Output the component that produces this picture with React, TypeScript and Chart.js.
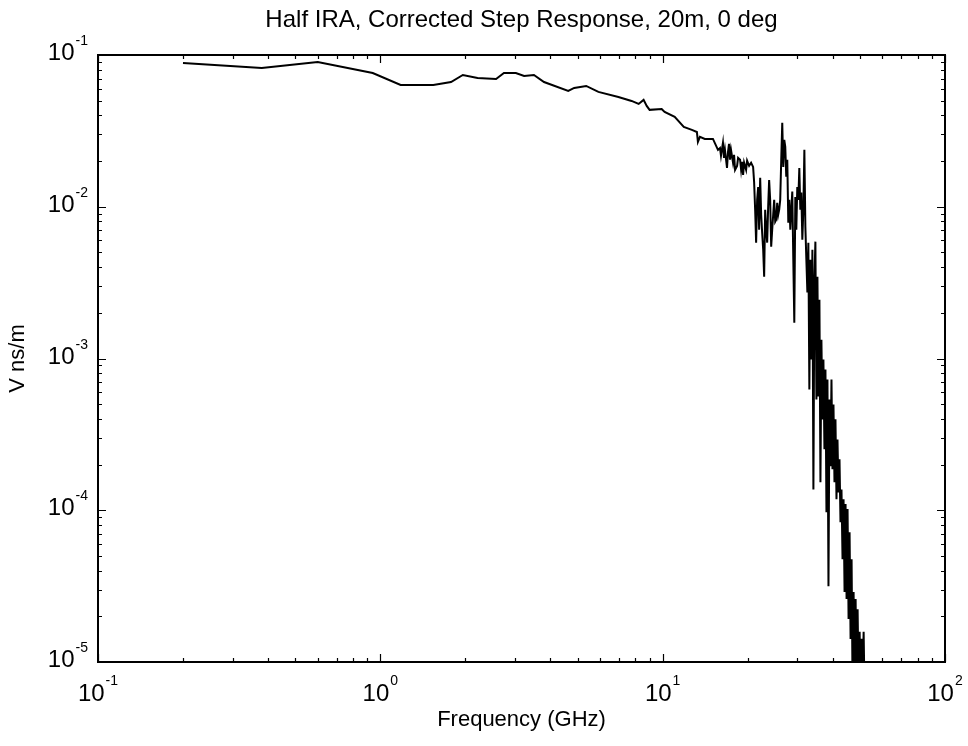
import React, { useEffect, useRef } from "react";
import { Chart, registerables } from "chart.js";

Chart.register(...registerables);

const chartTitle = "Half IRA, Corrected Step Response, 20m, 0 deg";
const xAxisLabel = "Frequency (GHz)";
const yAxisLabel = "V ns/m";

const xTickValues = [0.1, 1, 10, 100];
const xTickExponents = ["-1", "0", "1", "2"];
const yTickValues = [0.00001, 0.0001, 0.001, 0.01, 0.1];
const yTickExponents = ["-5", "-4", "-3", "-2", "-1"];

// Frequency samples (GHz)
const freqGHz = [
  0.2, 0.38, 0.6, 0.94, 1.18, 1.54, 1.78, 1.96, 2.21, 2.57, 2.74, 3.02, 3.23, 3.5, 3.8,
  4.63, 4.86, 5.36, 5.92, 6.97, 7.76, 8.22, 8.56, 8.78, 8.99, 9.92, 10.16, 11.03, 11.88,
  12.69, 13.22, 13.33, 13.55, 14.1, 15.07,
  15.7, 15.96, 16.09, 16.35, 16.49, 16.62, 16.9, 17.04, 17.18, 17.32, 17.46, 17.75, 17.9,
  18.05, 18.35, 18.5, 18.8, 18.96, 19.11, 19.27, 19.43, 19.75, 19.91, 20.24, 20.57, 20.91,
  21.08, 21.26, 21.43, 21.61, 21.79, 21.96, 22.15, 22.33, 22.51, 22.7, 22.88, 23.07, 23.26,
  23.45, 23.64, 23.83, 24.03, 24.23, 24.43, 24.63, 24.83, 25.04, 25.24, 25.45, 25.66, 25.87,
  26.08, 26.3, 26.52, 26.74, 26.96, 27.18, 27.4, 27.63, 27.86, 28.09, 28.32, 28.55, 28.78,
  29.02, 29.26, 29.5, 29.74, 29.98, 30.23, 30.48, 30.73, 30.98, 31.24, 31.5, 31.76, 32.02,
  32.28, 32.55, 32.81, 33.08, 33.36, 33.63, 33.91, 34.19, 34.47, 34.75, 35.04, 35.33, 35.62,
  35.91, 36.21, 36.5, 36.8, 37.1, 37.41, 37.72, 38.03, 38.34, 38.66, 38.98, 39.3, 39.62,
  39.94, 40.27, 40.6, 40.93, 41.27, 41.61, 41.95, 42.3, 42.64, 42.99, 43.36, 43.72, 44.08,
  44.44, 44.81, 45.17, 45.55, 45.92, 46.3, 46.68, 47.06, 47.45, 47.84, 48.24, 48.63, 49.03,
  49.44, 49.85, 50.26, 50.67, 51.08, 51.5, 51.93,
];

// Magnitude (V ns/m)
const magnitude = [
  0.0886, 0.0821, 0.0899, 0.0761, 0.0635, 0.0635, 0.0664, 0.0739, 0.0706, 0.0695, 0.0761,
  0.0761, 0.0727, 0.0739, 0.0664, 0.058, 0.0607, 0.0625, 0.0571, 0.0529, 0.0498, 0.0476,
  0.0506, 0.0462, 0.0435, 0.0441, 0.0422, 0.0391, 0.0336, 0.0321, 0.0311, 0.0268, 0.0289,
  0.028, 0.028,
  0.0237, 0.0244, 0.0217, 0.0264, 0.021, 0.0237, 0.018, 0.023, 0.026, 0.0204, 0.0237, 0.0195,
  0.022, 0.0175, 0.0186, 0.021, 0.0204, 0.0175, 0.0198, 0.0162, 0.0195, 0.0175, 0.0201,
  0.0186, 0.0195, 0.0183, 0.0146, 0.00956, 0.0058, 0.0111, 0.0135, 0.00706, 0.0155, 0.00886,
  0.00674, 0.00521, 0.00346, 0.00956, 0.00706, 0.0058, 0.01, 0.015, 0.0111, 0.00546, 0.00706,
  0.00886, 0.0111, 0.00797, 0.00821, 0.0106, 0.00886, 0.00956, 0.0111, 0.0204, 0.0357, 0.0183,
  0.0276, 0.0248, 0.0158, 0.0204, 0.00785, 0.0111, 0.00706, 0.00956, 0.0126, 0.00448, 0.00172,
  0.0116, 0.00706, 0.0135, 0.0111, 0.018, 0.00956, 0.0124, 0.00607, 0.00956, 0.0237, 0.00739,
  0.00448, 0.00272, 0.0058, 0.000625, 0.00448, 0.000985, 0.00521, 0.000137, 0.00331, 0.00589,
  0.000537, 0.00346, 0.000562, 0.00244, 0.000153, 0.00133, 0.000397, 0.000985, 0.000252,
  0.000847, 0.000097, 0.000727, 0.0000316, 0.000537, 0.000195, 0.000727, 0.000186, 0.000498,
  0.000153, 0.000397, 0.000118, 0.000293, 0.000131, 0.000217, 0.0000834, 0.000137, 0.0000476,
  0.000118, 0.0000289, 0.00011, 0.000026, 0.000102, 0.0000192, 0.0000717, 0.0000142,
  0.0000476, 0.00000665, 0.0000289, 0.0000077, 0.000026, 0.0000056, 0.0000223, 0.00000665,
  0.0000158, 0.0000056, 0.0000142, 0.0000077, 0.0000158, 0.0000056,
];

const FONT = "'Liberation Sans', Arial, Helvetica, sans-serif";

const matlabAxes = {
  id: "matlabAxes",
  afterDraw(chart: any) {
    const { ctx, chartArea: a, scales } = chart;
    const xs = scales.x;
    const ys = scales.y;
    ctx.save();
    ctx.strokeStyle = "#000";
    ctx.lineWidth = 1.2;
    ctx.beginPath();
    for (let i = 0; i < xTickValues.length; i++) {
      const base = xTickValues[i];
      const count = i === xTickValues.length - 1 ? 1 : 9;
      for (let m = 1; m <= count; m++) {
        const px = Math.round(xs.getPixelForValue(base * m)) + 0.5;
        const len = m === 1 ? 8 : 4;
        ctx.moveTo(px, a.bottom);
        ctx.lineTo(px, a.bottom - len);
        ctx.moveTo(px, a.top);
        ctx.lineTo(px, a.top + len);
      }
    }
    for (let i = 0; i < yTickValues.length; i++) {
      const base = yTickValues[i];
      const count = i === yTickValues.length - 1 ? 1 : 9;
      for (let m = 1; m <= count; m++) {
        const py = Math.round(ys.getPixelForValue(base * m)) + 0.5;
        const len = m === 1 ? 8 : 4;
        ctx.moveTo(a.left, py);
        ctx.lineTo(a.left + len, py);
        ctx.moveTo(a.right, py);
        ctx.lineTo(a.right - len, py);
      }
    }
    ctx.stroke();
    ctx.lineWidth = 2;
    ctx.strokeRect(a.left, a.top, a.right - a.left, a.bottom - a.top);

    ctx.fillStyle = "#000";
    ctx.textBaseline = "alphabetic";

    // title centred over the axes
    ctx.textAlign = "center";
    ctx.font = `24px ${FONT}`;
    ctx.fillText(chartTitle, (a.left + a.right) / 2, 27);

    ctx.textAlign = "left";
    const bigFont = `24px ${FONT}`;
    const supFont = `14px ${FONT}`;
    for (let i = 0; i < xTickValues.length; i++) {
      const px = xs.getPixelForValue(xTickValues[i]);
      ctx.font = bigFont;
      const wb = ctx.measureText("10").width;
      ctx.font = supFont;
      const ws = ctx.measureText(xTickExponents[i]).width;
      const x0 = px - (wb + 1 + ws) / 2;
      const base = a.bottom + 39;
      ctx.font = bigFont;
      ctx.fillText("10", x0, base);
      ctx.font = supFont;
      ctx.fillText(xTickExponents[i], x0 + wb + 1, base - 16);
    }
    for (let i = 0; i < yTickValues.length; i++) {
      const py = ys.getPixelForValue(yTickValues[i]);
      ctx.font = bigFont;
      const wb = ctx.measureText("10").width;
      ctx.font = supFont;
      const ws = ctx.measureText(yTickExponents[i]).width;
      const x0 = a.left - 10 - (wb + 1 + ws);
      const base = py + 5;
      ctx.font = bigFont;
      ctx.fillText("10", x0, base);
      ctx.font = supFont;
      ctx.fillText(yTickExponents[i], x0 + wb + 1, base - 15);
    }
    ctx.restore();
  },
};

export default function App() {
  const canvasRef = useRef<HTMLCanvasElement | null>(null);

  useEffect(() => {
    if (!canvasRef.current) return;
    const points = freqGHz.map((f, i) => ({ x: f, y: magnitude[i] }));
    const chart = new Chart(canvasRef.current, {
      type: "line",
      data: {
        datasets: [
          {
            data: points,
            borderColor: "#000",
            borderWidth: 2,
            pointRadius: 0,
            fill: false,
            tension: 0,
          },
        ],
      },
      options: {
        animation: false,
        responsive: true,
        maintainAspectRatio: false,
        layout: { padding: { left: 0, right: 23, top: 55, bottom: 0 } },
        plugins: {
          legend: { display: false },
          tooltip: { enabled: false },
          title: { display: false },
        },
        scales: {
          x: {
            type: "logarithmic",
            min: 0.1,
            max: 100,
            grid: { display: false },
            border: { display: false },
            ticks: { display: false },
            title: {
              display: true,
              text: xAxisLabel,
              color: "#000",
              font: { family: FONT, size: 22, weight: "normal" },
              padding: { top: 0, bottom: 13 },
            },
            afterFit: (s: any) => {
              s.height = 84;
            },
          },
          y: {
            type: "logarithmic",
            min: 0.00001,
            max: 0.1,
            grid: { display: false },
            border: { display: false },
            ticks: { display: false },
            title: {
              display: true,
              text: yAxisLabel,
              color: "#000",
              font: { family: FONT, size: 22, weight: "normal" },
              padding: { top: 5, bottom: 0 },
            },
            afterFit: (s: any) => {
              s.width = 98;
            },
          },
        },
      },
      plugins: [matlabAxes],
    });
    return () => chart.destroy();
  }, []);

  return (
    <div style={{ position: "fixed", left: 0, top: 0, width: 968, height: 746, background: "#fff" }}>
      <canvas ref={canvasRef} />
    </div>
  );
}
